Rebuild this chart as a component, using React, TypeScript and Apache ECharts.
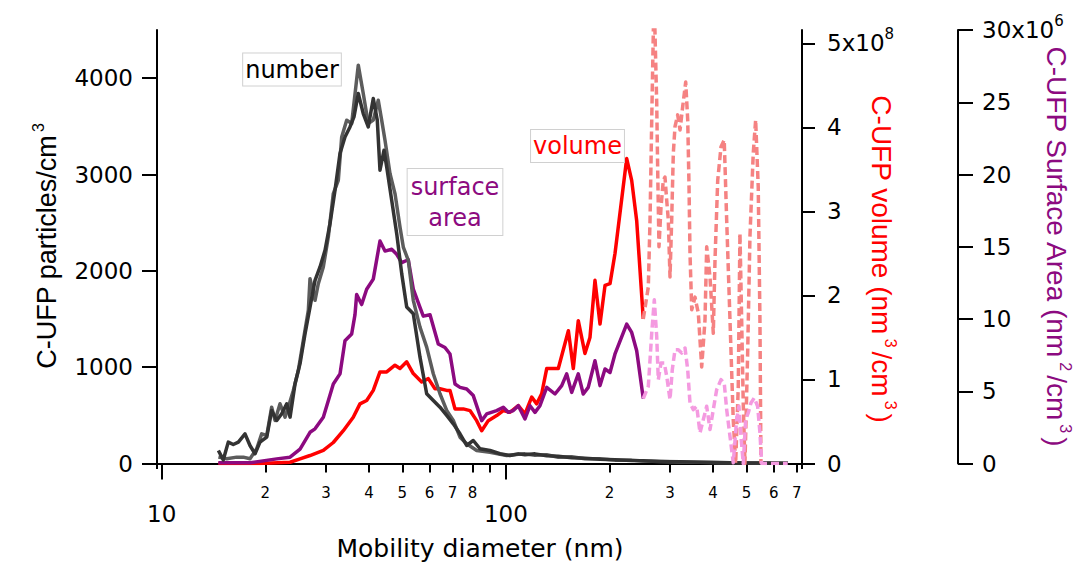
import React, { useEffect, useRef } from 'react';
import * as echarts from 'echarts';

// ---------- data: [mobility diameter (nm), value] ----------
const numberDark: [number, number][] = [
  [14.61, 135], [15.10, 38], [15.61, 222], [16.14, 197], [16.70, 222], [17.46, 308], [18.05, 187],
  [18.67, 101], [19.30, 222], [20.19, 273], [20.87, 551], [21.59, 447], [22.32, 516], [23.08, 620],
  [23.60, 481], [24.40, 828], [25.23, 1036], [26.09, 1348], [26.97, 1624], [27.89, 1901], [28.84, 2040],
  [29.82, 2213], [30.83, 2490], [31.88, 2836], [32.96, 3218], [34.08, 3390], [35.24, 3494], [36.19, 3598],
  [37.25, 3841], [38.51, 3633], [39.82, 3494], [41.18, 3789], [42.30, 3564], [43.07, 3044], [44.24, 3252],
  [45.05, 3078], [46.58, 2732], [48.17, 2386], [49.81, 1971], [51.50, 1624], [53.82, 1555], [56.29, 1104],
  [58.87, 724], [61.53, 654], [64.35, 585], [67.30, 499], [70.34, 412], [73.56, 308], [76.93, 187],
  [80.40, 239], [84.09, 153], [89.90, 135], [96.13, 101], [102.8, 83], [108.65, 100], [113.63, 90],
  [121.5, 100], [131.4, 80], [142.0, 75], [155.3, 60], [169.7, 55], [187.7, 45], [207.5, 40], [232.0, 30],
  [250.7, 28], [280.4, 22], [320.6, 18], [366.4, 12], [418.9, 10], [478.9, 6], [547.4, 5], [605.1, 3],
  [660.1, 2],
];

const numberMedium: [number, number][] = [
  [14.61, 66], [15.45, 49], [16.52, 66], [17.26, 66], [18.05, 49], [18.88, 153], [19.52, 308], [20.19, 291],
  [20.87, 585], [21.34, 447], [22.07, 620], [22.82, 481], [23.33, 585], [24.12, 758], [24.94, 966],
  [25.79, 1278], [26.67, 1590], [26.97, 1919], [27.89, 1694], [28.51, 1867], [29.48, 2040], [30.48, 2351],
  [31.52, 2802], [32.59, 2940], [33.34, 3390], [34.47, 3564], [35.64, 3529], [37.25, 4135], [38.51, 3841],
  [39.82, 3529], [41.18, 3564], [42.58, 3771], [43.56, 3564], [44.54, 3356], [46.05, 3010], [47.62, 2802],
  [49.24, 2455], [50.34, 2247], [52.05, 2109], [53.82, 1694], [56.29, 1416], [58.87, 1208], [61.53, 932],
  [64.35, 724], [67.30, 551], [70.34, 447], [73.56, 273], [76.93, 205], [82.25, 135], [89.90, 117],
  [100.5, 83], [108.65, 95], [113.63, 100], [121.5, 85], [131.4, 90], [142.0, 65], [155.3, 70], [169.7, 50],
  [187.7, 50], [207.5, 35], [232.0, 35], [250.7, 25], [280.4, 20], [320.6, 15], [366.4, 14], [418.9, 8],
  [478.9, 8], [547.4, 4], [605.1, 4], [660.1, 3],
];

// surface area, units of 10^6 nm^2/cm^3
const surfaceMeasured: [number, number][] = [
  [14.61, 0.05], [18.05, 0.05], [21.59, 0.32], [23.60, 0.44], [25.23, 1.0], [26.97, 2.16], [27.89, 2.4],
  [29.48, 3.2], [30.48, 4.35], [31.52, 5.5], [32.96, 6.2], [34.08, 8.5], [35.64, 8.96], [36.44, 10.3],
  [36.85, 11.7], [38.10, 11.0], [39.40, 12.06], [41.18, 12.76], [43.07, 15.4], [44.54, 14.7], [46.58, 14.83],
  [48.17, 14.48], [49.81, 13.9], [52.05, 14.1], [53.82, 12.07], [56.29, 10.8], [57.55, 10.2], [60.19, 10.3],
  [63.62, 8.27], [66.53, 8.03], [68.80, 7.58], [71.14, 5.5], [73.56, 5.27], [76.93, 5.16], [80.40, 4.7],
  [85.05, 2.97], [87.94, 3.43], [94.03, 3.66], [98.28, 3.89], [101.6, 3.54], [105.07, 3.66], [108.65, 4.0],
  [113.63, 3.09], [117.5, 4.0], [121.5, 3.54], [125.6, 4.0], [131.4, 5.27], [138.9, 4.81], [145.3, 5.39],
  [150.2, 6.2], [155.3, 4.92], [162.3, 6.2], [167.8, 4.81], [173.5, 5.27], [181.5, 7.11], [187.7, 5.39],
  [194.1, 6.54], [200.7, 6.3], [207.5, 7.58], [224.4, 9.65], [232.0, 9.07], [239.9, 7.8], [250.7, 4.5],
];

const surfaceExtended: [number, number][] = [
  [250.7, 4.5], [259.3, 5.34], [265.3, 9.03], [269.9, 11.33], [274.3, 8.79], [277.2, 5.8], [282.3, 6.95],
  [288.6, 6.95], [293.3, 6.03], [299.8, 4.42], [304.4, 6.49], [310.0, 7.87], [316.9, 7.87], [324.2, 7.64],
  [331.5, 7.99], [337.5, 6.49], [342.7, 4.19], [350.4, 3.73], [358.4, 3.96], [366.4, 2.12], [374.6, 3.04],
  [383.2, 3.96], [391.8, 2.35], [400.5, 3.73], [409.7, 5.11], [421.7, 5.8], [430.9, 5.57], [438.0, 3.73],
  [447.8, 1.89], [457.7, 0.05], [468.2, 3.04], [475.5, 3.96], [481.9, 1.89], [489.4, 0], [497.3, 3.04],
  [506.0, 3.5], [515.2, 4.19], [526.7, 4.54], [538.8, 3.96], [547.2, 2.12], [553.5, 0], [578.5, 0],
  [618.5, 0], [658.8, 0],
];

// volume, units of 10^8 nm^3/cm^3
const volumeMeasured: [number, number][] = [
  [14.61, 0], [19.30, 0], [23.60, 0.015], [25.23, 0.056], [26.97, 0.095], [29.48, 0.155], [31.52, 0.25],
  [33.70, 0.39], [36.02, 0.55], [37.67, 0.71], [39.40, 0.75], [41.18, 0.87], [43.07, 1.09], [45.05, 1.09],
  [47.62, 1.17], [49.24, 1.13], [51.50, 1.21], [53.82, 1.07], [56.94, 0.97], [59.51, 1.01], [62.23, 0.89],
  [64.35, 0.89], [67.30, 0.87], [68.80, 0.87], [71.14, 0.65], [75.20, 0.65], [78.64, 0.63], [82.25, 0.51],
  [85.05, 0.39], [88.89, 0.51], [94.03, 0.57], [98.28, 0.63], [102.8, 0.61], [108.65, 0.69], [113.63, 0.59],
  [118.85, 0.79], [122.9, 0.71], [127.05, 0.83], [131.4, 1.13], [137.3, 1.13], [142.0, 1.13], [151.9, 1.58],
  [157.0, 1.13], [162.3, 1.7], [169.7, 1.31], [175.5, 1.5], [181.5, 2.18], [187.7, 1.66], [194.1, 2.12],
  [200.7, 2.14], [207.5, 2.5], [224.4, 3.63], [232.0, 3.37], [239.9, 2.89], [250.7, 1.72],
];

const volumeExtended: [number, number][] = [
  [250.7, 1.72], [259.3, 2.1], [262.3, 2.9], [265.3, 4.09], [269.4, 5.6], [274.3, 4.29], [276.1, 3.49],
  [278.5, 2.58], [282.3, 3.05], [286.6, 3.37], [289.9, 3.41], [293.3, 3.13], [296.4, 2.9], [299.8, 2.22],
  [303.2, 2.9], [306.5, 3.69], [310.0, 4.01], [315.6, 4.15], [320.6, 3.97], [326.4, 4.25], [333.0, 4.54],
  [337.5, 4.09], [340.5, 3.29], [342.7, 2.5], [346.7, 1.83], [354.4, 1.98], [362.3, 1.79], [370.6, 1.15],
  [378.9, 1.71], [383.2, 2.58], [391.8, 2.22], [400.5, 1.55], [405.1, 2.42], [412.5, 3.37], [421.7, 3.77],
  [430.9, 3.85], [438.0, 2.9], [447.8, 1.71], [457.7, 0.52], [465.1, 0], [473.3, 0.91], [478.7, 2.74],
  [484.2, 1.71], [489.4, 0.71], [495.0, 0], [504.0, 1.31], [511.8, 2.7], [523.2, 3.69], [531.7, 4.09],
  [541.0, 3.29], [547.2, 1.71], [550.9, 0],
];

// ---------- ticks ----------
const xMajorTicks = [10, 100];
const xMinorTicks = [20, 30, 40, 50, 60, 70, 80, 90, 200, 300, 400, 500, 600, 700];
const xMinorLabels = [20, 30, 40, 50, 60, 70, 80, 200, 300, 400, 500, 600, 700];
const numberTicks = [0, 1000, 2000, 3000, 4000];
const volumeTicks = [0, 1, 2, 3, 4, 5];
const surfaceTicks = [0, 5, 10, 15, 20, 25, 30];

const FONT = 'DejaVu Sans';
const TITLE_FONT = 'Liberation Sans';
const PURPLE = '#8c0a80';
const RED = '#ff0000';
const LW = 3.5;

export default function App() {
  const ref = useRef<HTMLDivElement>(null);

  useEffect(() => {
    if (!ref.current) return;
    const chart = echarts.init(ref.current, undefined, { renderer: 'svg' });

    const axisLine = { show: true, lineStyle: { color: '#000', width: 2 } };
    const baseX = {
      type: 'log' as const,
      logBase: 10,
      min: 9.69,
      max: 725,
      position: 'bottom' as const,
      offset: 4.5,
      splitLine: { show: false },
      minorTick: { show: false },
    };

    const option: any = {
      animation: false,
      backgroundColor: '#fff',
      grid: { left: 157, right: 280, top: 30, bottom: 98.5, containLabel: false },
      xAxis: [
        {
          ...baseX,
          axisLine,
          axisTick: { show: true, customValues: xMajorTicks, length: 16, lineStyle: { color: '#000', width: 2 } },
          axisLabel: {
            show: true,
            customValues: xMajorTicks,
            margin: 34,
            fontSize: 23,
            fontFamily: FONT,
            color: '#000',
            formatter: (v: number) => String(Math.round(v)),
          },
        },
        {
          ...baseX,
          axisLine: { show: false },
          axisTick: { show: true, customValues: xMinorTicks, length: 9, lineStyle: { color: '#000', width: 2 } },
          axisLabel: {
            show: true,
            customValues: xMinorLabels,
            margin: 17,
            fontSize: 15,
            fontFamily: FONT,
            color: '#000',
            formatter: (v: number) => String(Math.round(v / Math.pow(10, Math.floor(Math.log10(v) + 1e-9)))),
          },
        },
      ],
      yAxis: [
        {
          type: 'value',
          min: 0,
          max: 4500,
          position: 'left',
          axisLine,
          splitLine: { show: false },
          axisTick: { show: true, customValues: numberTicks, length: 15, lineStyle: { color: '#000', width: 2 } },
          axisLabel: {
            customValues: numberTicks, margin: 24, fontSize: 23, fontFamily: FONT, color: '#000',
            formatter: (v: number) => String(Math.round(v)),
          },
        },
        {
          type: 'value',
          min: 0,
          max: 5.16,
          position: 'right',
          offset: 0,
          axisLine,
          splitLine: { show: false },
          axisTick: { show: true, customValues: volumeTicks, length: 13, lineStyle: { color: '#000', width: 2 } },
          axisLabel: {
            customValues: volumeTicks,
            margin: 25,
            formatter: (v: number) => (v === 5 ? '{m|5x10}{sup|8}' : '{m|' + v + '}'),
            rich: {
              m: { fontSize: 23, fontFamily: FONT, color: '#000', lineHeight: 34 },
              sup: { fontSize: 15, fontFamily: FONT, color: '#000', verticalAlign: 'top', lineHeight: 18 },
            },
          },
        },
        {
          type: 'value',
          min: 0,
          max: 30,
          position: 'right',
          offset: 156,
          axisLine,
          splitLine: { show: false },
          axisTick: { show: true, customValues: surfaceTicks, length: 15, lineStyle: { color: '#000', width: 2 } },
          axisLabel: {
            customValues: surfaceTicks,
            margin: 24,
            formatter: (v: number) => (v === 30 ? '{m|30x10}{sup|6}' : '{m|' + v + '}'),
            rich: {
              m: { fontSize: 23, fontFamily: FONT, color: '#000', lineHeight: 34 },
              sup: { fontSize: 15, fontFamily: FONT, color: '#000', verticalAlign: 'top', lineHeight: 18 },
            },
          },
        },
      ],
      series: [
        {
          type: 'line', name: 'volume', xAxisIndex: 0, yAxisIndex: 1, data: volumeMeasured,
          symbol: 'none', lineStyle: { color: RED, width: LW, join: 'round' }, itemStyle: { color: RED },
        },
        {
          type: 'line', name: 'surface area', xAxisIndex: 0, yAxisIndex: 2, data: surfaceMeasured,
          symbol: 'none', lineStyle: { color: PURPLE, width: LW, join: 'round' }, itemStyle: { color: PURPLE },
        },
        {
          type: 'line', name: 'number 2', xAxisIndex: 0, yAxisIndex: 0, data: numberMedium,
          symbol: 'none', lineStyle: { color: '#5c5c5c', width: LW, join: 'round' }, itemStyle: { color: '#5c5c5c' },
        },
        {
          type: 'line', name: 'number 1', xAxisIndex: 0, yAxisIndex: 0, data: numberDark,
          symbol: 'none', lineStyle: { color: '#333333', width: LW, join: 'round' }, itemStyle: { color: '#333333' },
        },
        {
          type: 'line', name: 'volume ext', xAxisIndex: 0, yAxisIndex: 1, data: volumeExtended,
          symbol: 'none', clip: true,
          lineStyle: { color: '#f58282', width: LW, type: [8, 4], join: 'round' }, itemStyle: { color: '#f58282' },
        },
        {
          type: 'line', name: 'surface ext', xAxisIndex: 0, yAxisIndex: 2, data: surfaceExtended,
          symbol: 'none', clip: true,
          lineStyle: { color: '#f49ae0', width: LW, type: [8, 4], join: 'round' }, itemStyle: { color: '#f49ae0' },
        },
      ],
      graphic: [
        { type: 'line', shape: { x1: 157, y1: 462, x2: 157, y2: 469 }, style: { stroke: '#000', lineWidth: 2 } },
        { type: 'line', shape: { x1: 802, y1: 462, x2: 802, y2: 469 }, style: { stroke: '#000', lineWidth: 2 } },
        {
          type: 'text', x: 480, y: 548,
          style: { text: 'Mobility diameter (nm)', fontSize: 25, fontFamily: FONT, fill: '#000', align: 'center', verticalAlign: 'middle' },
        },
        {
          type: 'text', x: 47, y: 246, rotation: Math.PI / 2,
          style: {
            text: '{m|C-UFP particles/cm}{sup|3}', align: 'center', verticalAlign: 'middle',
            rich: {
              m: { fontSize: 27, fontFamily: TITLE_FONT, fill: '#000', lineHeight: 34 },
              sup: { fontSize: 16, fontFamily: TITLE_FONT, fill: '#000', verticalAlign: 'top', padding: [0, 0, 0, 3] },
            },
          },
        },
        {
          type: 'text', x: 881, y: 259, rotation: -Math.PI / 2,
          style: {
            text: '{m|C-UFP volume (nm}{sup|3}{m|/cm}{sup|3}{m|)}', align: 'center', verticalAlign: 'middle',
            rich: {
              m: { fontSize: 28, fontFamily: TITLE_FONT, fill: RED, lineHeight: 34 },
              sup: { fontSize: 16, fontFamily: TITLE_FONT, fill: RED, verticalAlign: 'top', padding: [0, 4, 0, 4] },
            },
          },
        },
        {
          type: 'text', x: 1056, y: 246, rotation: -Math.PI / 2,
          style: {
            text: '{m|C-UFP Surface Area (nm}{sup|2}{m|/cm}{sup|3}{m|)}', align: 'center', verticalAlign: 'middle',
            rich: {
              m: { fontSize: 28, fontFamily: TITLE_FONT, fill: PURPLE, lineHeight: 34 },
              sup: { fontSize: 16, fontFamily: TITLE_FONT, fill: PURPLE, verticalAlign: 'top', padding: [0, 4, 0, 4] },
            },
          },
        },
        {
          type: 'text', x: 292, y: 69.5, z: 10,
          style: {
            text: 'number', fontSize: 24, fontFamily: FONT, fill: '#000', align: 'center', verticalAlign: 'middle',
            lineHeight: 26, backgroundColor: '#fff', borderColor: '#d0d0d0', borderWidth: 1, padding: [3, 2, 3, 2],
          },
        },
        {
          type: 'text', x: 455, y: 202, z: 10,
          style: {
            text: 'surface\narea', fontSize: 24, fontFamily: FONT, fill: PURPLE, align: 'center', verticalAlign: 'middle',
            lineHeight: 31, backgroundColor: '#fff', borderColor: '#d0d0d0', borderWidth: 1, padding: [2, 3, 2, 3],
          },
        },
        {
          type: 'text', x: 577.5, y: 146, z: 10,
          style: {
            text: 'volume', fontSize: 24, fontFamily: FONT, fill: RED, align: 'center', verticalAlign: 'middle',
            lineHeight: 26, backgroundColor: '#fff', borderColor: '#d0d0d0', borderWidth: 1, padding: [3, 2, 3, 2],
          },
        },
      ],
    };

    chart.setOption(option);
    return () => chart.dispose();
  }, []);

  return (
    <div
      ref={ref}
      style={{ position: 'fixed', left: 0, top: 0, width: 1082, height: 562, background: '#fff' }}
    />
  );
}
